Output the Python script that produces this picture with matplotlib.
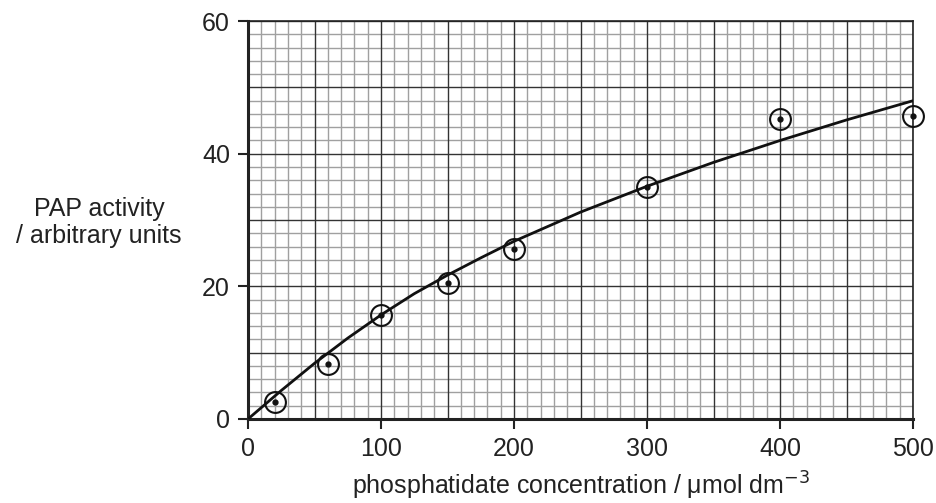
import numpy as np
import matplotlib.pyplot as plt

plt.rcParams['font.family'] = ['Liberation Sans', 'DejaVu Sans']

# measured points
conc = [20, 60, 100, 150, 200, 300, 400, 500]
activity = [2.5, 8.3, 15.7, 20.5, 25.7, 35.0, 45.3, 45.7]

# drawn best-fit curve
curve_x = [0, 25, 50, 75, 100, 125, 150, 175, 200, 250, 300, 350, 400, 450, 500]
curve_y = [0, 4.3, 8.4, 12.2, 15.7, 18.9, 21.7, 24.3, 26.8, 31.2, 35.1, 38.7, 42.0, 45.1, 48.0]

xticks = [0, 100, 200, 300, 400, 500]
yticks = [0, 20, 40, 60]

fig = plt.figure(figsize=(9.36, 5.03), dpi=100)
ax = fig.add_axes([0.265, 0.167, 0.7105, 0.791])

ax.set_xlim(0, 500)
ax.set_ylim(0, 60)

# graph paper
for v in np.arange(0, 501, 10):
    major = v % 50 == 0
    ax.axvline(v, color='#333333' if major else '#a0a0a0', lw=1.0, zorder=1 if major else 0)
for v in np.arange(0, 61, 2):
    major = v % 10 == 0
    ax.axhline(v, color='#333333' if major else '#a0a0a0', lw=1.0, zorder=1 if major else 0)

ax.plot(curve_x, curve_y, color='#111111', lw=2.0, zorder=3, solid_capstyle='round')
ax.plot(conc, activity, linestyle='none', marker='o', markersize=15,
        markerfacecolor='none', markeredgecolor='#111111', markeredgewidth=1.5,
        zorder=4, clip_on=False)
ax.plot(conc, activity, linestyle='none', marker='o', markersize=3.5,
        color='#111111', zorder=5, clip_on=False)

ax.set_xticks(xticks)
ax.set_yticks(yticks)
ax.tick_params(axis='both', which='major', direction='out', length=7, width=1.5,
               labelsize=18, color='#222222', labelcolor='#222222', pad=6)

for s in ax.spines.values():
    s.set_color('#222222')
    s.set_linewidth(1.2)
ax.spines['left'].set_linewidth(2.2)
ax.spines['bottom'].set_linewidth(2.2)

fig.text(0.106, 0.557, 'PAP activity\n/ arbitrary units', ha='center', va='center',
         fontsize=18, color='#222222', linespacing=1.15)
ax.set_xlabel('phosphatidate concentration / μmol dm$^{-3}$', fontsize=18,
              color='#222222', labelpad=6)

fig.savefig('out.png', dpi=100)
